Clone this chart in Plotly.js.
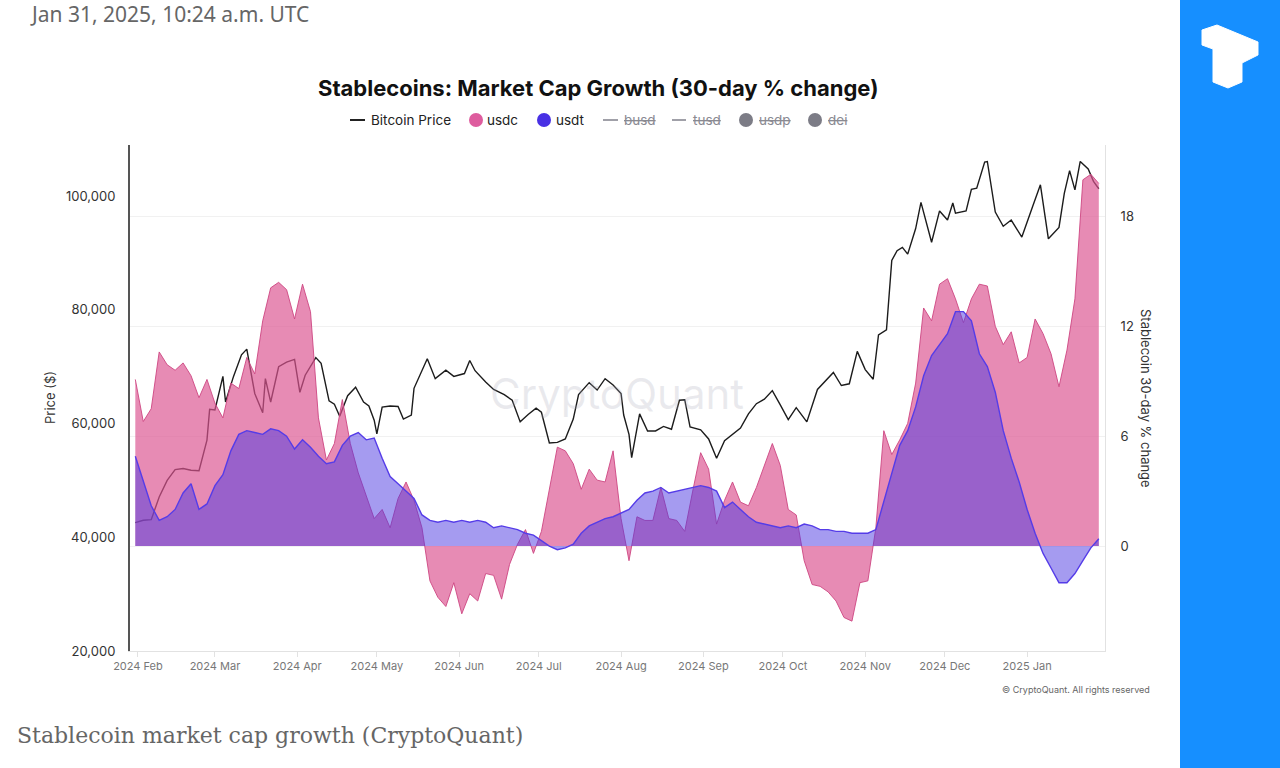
<!DOCTYPE html>
<html>
<head>
<meta charset="utf-8">
<script src="https://cdn.plot.ly/plotly-3.0.1.min.js"></script>
<style>
html,body{margin:0;padding:0;background:#fff;}
#chart{width:1280px;height:768px;}
</style>
</head>
<body>
<div id="chart"></div>
<script>
// ---- DATA ----
const stableDates = ['2024-01-31','2024-02-03','2024-02-06','2024-02-09','2024-02-12','2024-02-15','2024-02-18','2024-02-21','2024-02-24','2024-02-27',
'2024-03-01','2024-03-04','2024-03-07','2024-03-10','2024-03-13','2024-03-16','2024-03-19','2024-03-22','2024-03-25','2024-03-28',
'2024-03-31','2024-04-03','2024-04-06','2024-04-09','2024-04-12','2024-04-15','2024-04-18','2024-04-21','2024-04-24','2024-04-27',
'2024-04-30','2024-05-03','2024-05-06','2024-05-09','2024-05-12','2024-05-15','2024-05-18','2024-05-21','2024-05-24','2024-05-27',
'2024-05-30','2024-06-02','2024-06-05','2024-06-08','2024-06-11','2024-06-14','2024-06-17','2024-06-20','2024-06-23','2024-06-26',
'2024-06-29','2024-07-02','2024-07-05','2024-07-08','2024-07-11','2024-07-14','2024-07-17','2024-07-20','2024-07-23','2024-07-26',
'2024-07-29','2024-08-01','2024-08-04','2024-08-07','2024-08-10','2024-08-13','2024-08-16','2024-08-19','2024-08-22','2024-08-25',
'2024-08-28','2024-08-31','2024-09-03','2024-09-06','2024-09-09','2024-09-12','2024-09-15','2024-09-18','2024-09-21','2024-09-24',
'2024-09-27','2024-09-30','2024-10-03','2024-10-06','2024-10-09','2024-10-12','2024-10-15','2024-10-18','2024-10-21','2024-10-24',
'2024-10-27','2024-10-30','2024-11-02','2024-11-05','2024-11-08','2024-11-11','2024-11-14','2024-11-17','2024-11-20','2024-11-23',
'2024-11-26','2024-11-29','2024-12-02','2024-12-05','2024-12-08','2024-12-11','2024-12-14','2024-12-17','2024-12-20','2024-12-23',
'2024-12-26','2024-12-29','2025-01-01','2025-01-04','2025-01-07','2025-01-10','2025-01-13','2025-01-16','2025-01-19','2025-01-22',
'2025-01-25','2025-01-28'];

const usdcChange = [9.1, 6.8, 7.5, 10.6, 9.9, 9.6, 10.0, 9.3, 8.1, 9.1,
 7.8, 7.0, 8.9, 8.6, 10.3, 9.4, 12.3, 14.1, 14.4, 14.0,
 12.4, 14.3, 12.8, 7.0, 4.7, 5.6, 8.0, 5.6, 4.0, 2.8,
 1.5, 2.0, 1.0, 2.6, 3.5, 2.5, 1.0, -1.9, -2.8, -3.3,
 -2.0, -3.7, -2.6, -3.0, -1.5, -1.6, -2.9, -1.0, 0.1, 0.9,
 -0.4, 0.8, 3.0, 5.4, 5.2, 4.5, 3.1, 4.2, 3.6, 3.5,
 5.2, 1.5, -0.8, 1.6, 1.4, 1.4, 3.2, 1.5, 1.4, 0.8,
 3.0, 5.1, 4.2, 1.2, 2.5, 3.5, 2.4, 2.2, 3.2, 4.4,
 5.6, 4.4, 2.0, 1.7, -0.8, -2.1, -2.2, -2.5, -3.0, -3.9,
 -4.1, -2.0, -1.9, 1.0, 6.3, 5.0, 5.8, 6.7, 8.9, 13.0,
 12.3, 14.3, 14.6, 13.5, 12.2, 13.5, 14.3, 14.2, 12.0, 11.0,
 11.7, 10.0, 10.3, 12.4, 11.6, 10.5, 8.7, 10.7, 13.5, 20.0,
 20.3, 19.8];

const usdtChange = [4.9, 3.6, 2.2, 1.4, 1.6, 2.0, 2.9, 3.4, 2.0, 2.3,
 3.3, 3.9, 5.2, 6.1, 6.3, 6.2, 6.1, 6.4, 6.3, 6.0,
 5.3, 5.8, 5.4, 4.9, 4.5, 4.6, 5.5, 6.0, 6.2, 5.8,
 5.9, 4.8, 3.8, 3.4, 3.0, 2.6, 1.7, 1.4, 1.3, 1.4,
 1.3, 1.4, 1.3, 1.4, 1.3, 1.0, 1.1, 1.0, 0.9, 0.7,
 0.6, 0.3, 0.0, -0.2, -0.1, 0.1, 0.7, 1.1, 1.3, 1.5,
 1.6, 1.8, 2.0, 2.5, 2.9, 3.0, 3.2, 2.9, 3.0, 3.1,
 3.2, 3.3, 3.2, 3.0, 2.1, 2.4, 2.0, 1.6, 1.3, 1.2,
 1.1, 1.0, 1.1, 1.0, 1.2, 1.1, 0.9, 0.9, 0.8, 0.8,
 0.7, 0.7, 0.7, 0.9, 2.4, 3.9, 5.5, 6.3, 7.6, 9.3,
 10.4, 11.0, 11.6, 12.8, 12.8, 12.3, 10.5, 9.8, 8.4, 6.3,
 4.8, 3.5, 2.0, 0.7, -0.4, -1.2, -2.0, -2.0, -1.5, -0.8,
 -0.1, 0.4];

const btcDates = ['2024-01-31','2024-02-03','2024-02-06','2024-02-09','2024-02-12','2024-02-15','2024-02-18','2024-02-21','2024-02-24','2024-02-27',
'2024-02-28','2024-03-01','2024-03-04','2024-03-05','2024-03-08','2024-03-11','2024-03-13','2024-03-16','2024-03-19','2024-03-20',
'2024-03-22','2024-03-25','2024-03-28','2024-03-31','2024-04-02','2024-04-04','2024-04-08','2024-04-10','2024-04-13','2024-04-15',
'2024-04-17','2024-04-20','2024-04-23','2024-04-26','2024-04-28','2024-04-30','2024-05-01','2024-05-03','2024-05-06','2024-05-09',
'2024-05-11','2024-05-14','2024-05-15','2024-05-20','2024-05-23','2024-05-27','2024-05-30','2024-06-03','2024-06-05','2024-06-07',
'2024-06-11','2024-06-14','2024-06-18','2024-06-21','2024-06-24','2024-06-27','2024-06-30','2024-07-02','2024-07-05','2024-07-08',
'2024-07-11','2024-07-14','2024-07-16','2024-07-20','2024-07-23','2024-07-26','2024-07-29','2024-08-01','2024-08-02','2024-08-04',
'2024-08-05','2024-08-08','2024-08-11','2024-08-14','2024-08-17','2024-08-20','2024-08-23','2024-08-25','2024-08-27','2024-08-31',
'2024-09-03','2024-09-06','2024-09-09','2024-09-12','2024-09-15','2024-09-18','2024-09-21','2024-09-24','2024-09-27','2024-09-30',
'2024-10-03','2024-10-06','2024-10-10','2024-10-14','2024-10-17','2024-10-20','2024-10-23','2024-10-26','2024-10-29','2024-11-01',
'2024-11-04','2024-11-06','2024-11-09','2024-11-11','2024-11-13','2024-11-15','2024-11-17','2024-11-20','2024-11-22','2024-11-26',
'2024-11-29','2024-12-02','2024-12-04','2024-12-05','2024-12-09','2024-12-11','2024-12-13','2024-12-16','2024-12-17','2024-12-20',
'2024-12-23','2024-12-26','2024-12-28','2024-12-30','2025-01-03','2025-01-06','2025-01-09','2025-01-13','2025-01-15','2025-01-17',
'2025-01-19','2025-01-21','2025-01-24','2025-01-26','2025-01-28'];

const btcPrice = [42580, 43000, 43100, 47100, 50000, 51900, 52100, 51800, 51700, 57100,
62500, 62400, 68300, 63800, 68300, 72100, 73100, 65300, 61900, 67900,
63800, 70000, 70800, 71300, 65500, 68500, 71600, 70600, 64000, 63400,
61300, 64900, 66400, 63800, 63100, 60600, 58200, 62900, 63100, 63000,
60800, 61500, 66200, 71400, 67900, 69400, 68300, 68800, 71100, 69300,
67300, 66000, 65100, 64100, 60300, 61600, 62700, 62000, 56600, 56700,
57300, 60800, 65100, 67200, 65900, 67900, 66800, 65300, 61500, 58100,
54000, 61700, 58700, 58700, 59500, 59000, 64100, 64200, 59400, 58900,
57300, 53900, 57000, 58100, 59200, 61700, 63500, 64300, 65800, 63300,
60700, 62800, 60300, 66000, 67600, 69000, 66700, 67000, 72700, 69500,
67800, 75600, 76500, 88700, 90400, 91000, 89800, 94300, 98900, 91900,
97400, 95800, 98800, 97000, 97400, 101200, 101400, 106000, 106100, 97200,
94700, 95800, 94300, 92800, 98100, 102000, 92500, 94500, 100500, 104500,
101100, 106100, 104800, 102600, 101300];

const priceTicks = [20000, 40000, 60000, 80000, 100000];
const changeTicks = [0, 6, 12, 18];

// ---- GEOMETRY HELPERS (pixel -> paper) ----
const L = 130, R = 1105, T = 145, B = 651;
const px = x => (x - L) / (R - L);
const py = y => (B - y) / (B - T);

const traces = [
  {x: btcDates, y: btcPrice, yaxis: 'y', type: 'scatter', mode: 'lines',
   line: {color: '#1c1c1c', width: 1.4}, hoverinfo: 'skip', name: 'Bitcoin Price'},
  {x: stableDates, y: usdcChange, yaxis: 'y2', type: 'scatter', mode: 'lines', fill: 'tozeroy',
   fillcolor: 'rgba(219,84,144,0.68)', line: {color: 'rgba(205,70,130,0.9)', width: 1},
   hoverinfo: 'skip', name: 'usdc'},
  {x: stableDates, y: usdtChange, yaxis: 'y2', type: 'scatter', mode: 'lines', fill: 'tozeroy',
   fillcolor: 'rgba(75,55,225,0.5)', line: {color: 'rgb(85,60,232)', width: 1.4},
   hoverinfo: 'skip', name: 'usdt'}
];

const F = 'Inter, "Liberation Sans", sans-serif';
const ann = [];
const shapes = [];

// Title
ann.push({text: '<b>Stablecoins: Market Cap Growth (30-day % change)</b>', xref: 'paper', yref: 'paper',
  x: px(598), y: py(88), xanchor: 'center', yanchor: 'middle', showarrow: false,
  font: {family: F, size: 22, color: '#111'}});

// Legend (manual)
const legendY = py(120);
function legLine(x0, x1, color) {
  shapes.push({type: 'line', xref: 'paper', yref: 'paper', x0: px(x0), x1: px(x1), y0: legendY, y1: legendY,
    line: {color: color, width: 2}});
}
function legDot(cx, color) {
  shapes.push({type: 'circle', xref: 'paper', yref: 'paper', xsizemode: 'pixel', ysizemode: 'pixel',
    xanchor: px(cx), yanchor: legendY, x0: -7, x1: 7, y0: -7, y1: 7, fillcolor: color, line: {width: 0}});
}
function legText(x, text, color) {
  ann.push({text: text, xref: 'paper', yref: 'paper', x: px(x), y: legendY, xanchor: 'left', yanchor: 'middle',
    showarrow: false, font: {family: F, size: 13.5, color: color}});
}
legLine(350, 365, '#222'); legText(369, 'Bitcoin Price', '#222');
legDot(476, 'rgb(222,92,158)'); legText(485, 'usdc', '#222');
legDot(544, 'rgb(72,48,228)'); legText(554, 'usdt', '#222');
legLine(603, 618, '#a0a0a8'); legText(622, '<s>busd</s>', '#8a8a92');
legLine(672, 686, '#a0a0a8'); legText(691, '<s>tusd</s>', '#8a8a92');
legDot(746, '#7c7c86'); legText(757, '<s>usdp</s>', '#8a8a92');
legDot(815, '#7c7c86'); legText(826, '<s>dei</s>', '#8a8a92');

// Axis titles
ann.push({text: 'Price ($)', xref: 'paper', yref: 'paper', x: px(50), y: py(398), textangle: -90,
  xanchor: 'center', yanchor: 'middle', showarrow: false, font: {family: F, size: 13, color: '#333'}});
ann.push({text: 'Stablecoin 30-day % change', xref: 'paper', yref: 'paper', x: px(1146), y: py(398), textangle: 90,
  xanchor: 'center', yanchor: 'middle', showarrow: false, font: {family: F, size: 13, color: '#333'}});

// Watermark
ann.push({text: 'CryptoQuant', xref: 'paper', yref: 'paper', x: px(617), y: py(393), xanchor: 'center', yanchor: 'middle',
  showarrow: false, font: {family: F, size: 42, color: 'rgba(170,170,185,0.25)'}});

// Copyright
ann.push({text: '© CryptoQuant. All rights reserved', xref: 'paper', yref: 'paper', x: px(1152), y: py(689),
  xanchor: 'right', yanchor: 'middle', showarrow: false, font: {family: F, size: 9, color: '#666'}});

// Page header date
ann.push({text: 'Jan 31, 2025, 10:24 a.m. UTC', xref: 'paper', yref: 'paper', x: px(28), y: py(14),
  xanchor: 'left', yanchor: 'middle', showarrow: false, font: {family: '"Noto Sans", sans-serif', size: 21, color: '#666'}});

// Caption
ann.push({text: 'Stablecoin market cap growth (CryptoQuant)', xref: 'paper', yref: 'paper', x: px(15), y: py(735),
  xanchor: 'left', yanchor: 'middle', showarrow: false, font: {family: '"DejaVu Serif", serif', size: 22, color: '#666'}});

// Right blue panel + logo
shapes.push({type: 'rect', xref: 'paper', yref: 'paper', x0: px(1180), x1: px(1285), y0: py(775), y1: py(-5),
  fillcolor: 'rgb(22,143,255)', line: {width: 0}, layer: 'above'});
const logoPts = [[1202,30],[1217,25],[1258,42],[1258,55],[1242,63],[1242,82],[1228,88],[1213,82],[1213,49],[1202,45]];
shapes.push({type: 'path', xref: 'paper', yref: 'paper',
  path: 'M' + logoPts.map(p => px(p[0]).toFixed(5) + ',' + py(p[1]).toFixed(5)).join(' L') + ' Z',
  fillcolor: '#ffffff', line: {color: '#ffffff', width: 1}, layer: 'above'});

const layout = {
  width: 1280, height: 768,
  margin: {l: L, r: 1280 - R, t: T, b: 768 - B, pad: 0},
  paper_bgcolor: '#ffffff', plot_bgcolor: '#ffffff',
  showlegend: false,
  xaxis: {type: 'date', range: ['2024-01-29', '2025-01-30 08:00'], tick0: '2024-02-01', dtick: 'M1',
    tickformat: '%Y %b', showgrid: false, zeroline: false, showline: true, linecolor: '#e2e2e2', linewidth: 1,
    ticks: 'outside', ticklen: 5, tickcolor: '#e2e2e2', tickfont: {family: F, size: 11, color: '#777'}},
  yaxis: {range: [20000, 109000], tickvals: priceTicks, tickformat: ',d', showgrid: false, zeroline: false,
    showline: true, linecolor: '#555', linewidth: 2, ticks: '', ticklabelstandoff: 10,
    tickfont: {family: F, size: 13, color: '#333'}},
  yaxis2: {overlaying: 'y', side: 'right', range: [-5.73, 21.9], tickvals: changeTicks, showgrid: true,
    gridcolor: '#f1f1f1', zeroline: false, showline: true, linecolor: '#e2e2e2', linewidth: 1, ticks: '',
    ticklabelstandoff: 12, tickfont: {family: F, size: 13, color: '#333'}},
  annotations: ann,
  shapes: shapes
};

Plotly.newPlot('chart', traces, layout, {displayModeBar: false, staticPlot: true});
</script>
</body>
</html>
